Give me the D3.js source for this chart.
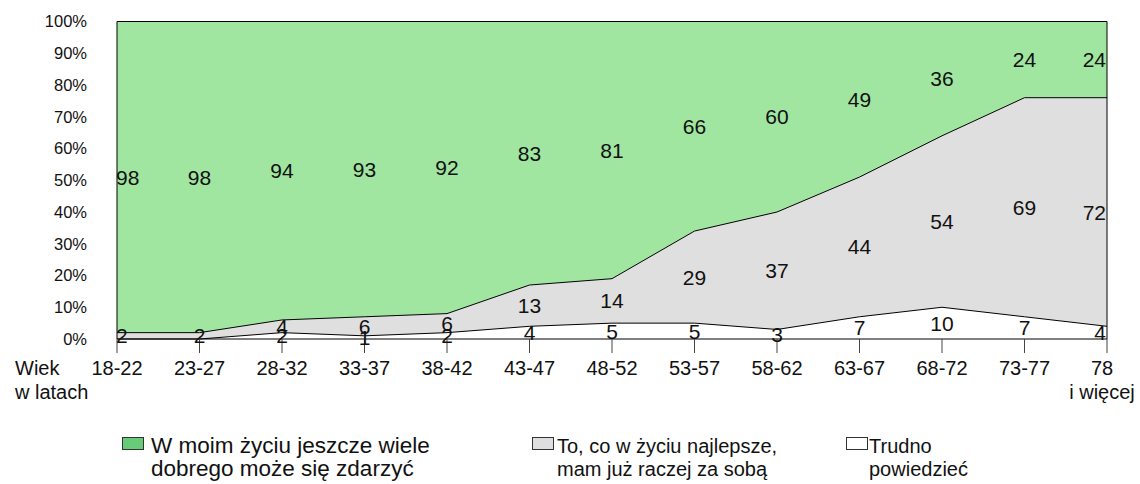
<!DOCTYPE html>
<html>
<head>
<meta charset="utf-8">
<script src="https://cdn.jsdelivr.net/npm/d3@7"></script>
<style>
  body { margin: 0; background: #fff; }
  svg { display: block; font-family: Arial, "Liberation Sans", sans-serif; }
</style>
</head>
<body>
<div id="chart"></div>
<script>
// age groups (x categories)
const ageGroups = ["18-22", "23-27", "28-32", "33-37", "38-42", "43-47", "48-52",
                   "53-57", "58-62", "63-67", "68-72", "73-77", "78|i więcej"];
// percentages
const wieleDobrego = [98, 98, 94, 93, 92, 83, 81, 66, 60, 49, 36, 24, 24];
const zaSoba = [2, 2, 4, 6, 6, 13, 14, 29, 37, 44, 54, 69, 72];
const trudno = [0, 0, 2, 1, 2, 4, 5, 5, 3, 7, 10, 7, 4];
const yTicks = [0, 10, 20, 30, 40, 50, 60, 70, 80, 90, 100];

const seriesKeys = ["trudno", "zaSoba", "wiele"];
const seriesFill = { trudno: "#ffffff", zaSoba: "#dfdfdf", wiele: "#a0e6a0" };
const legendItems = [
    { key: "wiele", lines: ["W moim życiu jeszcze wiele", "dobrego może się zdarzyć"], sw: "#66cc77", x: 122, tx: 151, fs: 22.5 },
    { key: "zaSoba", lines: ["To, co w życiu najlepsze,", "mam już raczej za sobą"], sw: "#dfdfdf", x: 532, tx: 557, fs: 20 },
    { key: "trudno", lines: ["Trudno", "powiedzieć"], sw: "#ffffff", x: 846, tx: 869, fs: 20 }
];

const W = 1140, H = 484;
const plotL = 117, plotR = 1107, plotT = 21.5, plotB = 339;

const table = ageGroups.map((g, i) => ({
    group: g, trudno: trudno[i], zaSoba: zaSoba[i], wiele: wieleDobrego[i]
}));

const svg = d3.select("#chart").append("svg")
    .attr("width", W).attr("height", H);

const x = d3.scalePoint().domain(ageGroups).range([plotL, plotR]);
const y = d3.scaleLinear().domain([0, 100]).range([plotB, plotT]);

const stacked = d3.stack().keys(seriesKeys)(table);

const area = d3.area()
    .x(d => x(d.data.group))
    .y0(d => y(d[0]))
    .y1(d => y(d[1]));

svg.append("g").selectAll("path")
    .data(stacked)
    .join("path")
    .attr("d", area)
    .attr("fill", d => seriesFill[d.key]);

// boundary lines between the bands
const line = d3.line()
    .x(d => x(d.data.group))
    .y(d => y(d[1]));

svg.append("g").selectAll("path")
    .data(stacked.slice(0, 2))
    .join("path")
    .attr("d", line)
    .attr("fill", "none")
    .attr("stroke", "#000")
    .attr("stroke-width", 1);

// frame
svg.append("path")
    .attr("d", `M${plotL},${plotB}V${plotT}H${plotR}V${plotB}`)
    .attr("fill", "none").attr("stroke", "#000");
svg.append("line")
    .attr("x1", plotL).attr("x2", plotR)
    .attr("y1", plotB).attr("y2", plotB)
    .attr("stroke", "#000");

// x ticks
svg.append("g").selectAll("line")
    .data(ageGroups)
    .join("line")
    .attr("x1", d => x(d)).attr("x2", d => x(d))
    .attr("y1", plotB).attr("y2", plotB + 14)
    .attr("stroke", "#444");

const xl = svg.append("g").attr("font-size", 20).attr("fill", "#111");
ageGroups.forEach((g, i) => {
    const parts = g.split("|");
    const cx = i === ageGroups.length - 1 ? x(g) - 5 : x(g);
    const t = xl.append("text").attr("text-anchor", "middle");
    parts.forEach((p, j) => {
        t.append("tspan").attr("x", cx).attr("y", 375 + j * 24).text(p);
    });
});
const wiek = xl.append("text");
wiek.append("tspan").attr("x", 15).attr("y", 375).text("Wiek");
wiek.append("tspan").attr("x", 15).attr("y", 399).text("w latach");

// y labels
svg.append("g").selectAll("text")
    .data(yTicks)
    .join("text")
    .attr("x", 87)
    .attr("y", d => y(d))
    .attr("dy", "0.36em")
    .attr("text-anchor", "end")
    .attr("font-size", 16.5)
    .attr("fill", "#111")
    .text(d => d + "%");

// value labels in the middle of each band
const last = ageGroups.length - 1;
const vl = svg.append("g").attr("font-size", 21).attr("fill", "#111");
stacked.forEach(s => {
    s.forEach((d, i) => {
        const v = d[1] - d[0];
        if (v <= 0) return;
        let px = x(d.data.group), anchor = "middle";
        if (i === 0) { px = px - 1; anchor = "start"; }
        if (i === last) { px = px - 1; anchor = "end"; }
        vl.append("text")
            .attr("x", px)
            .attr("y", y((d[0] + d[1]) / 2))
            .attr("dy", "0.36em")
            .attr("text-anchor", anchor)
            .text(v);
    });
});

// legend
const lg = svg.append("g");
legendItems.forEach(it => {
    lg.append("rect")
        .attr("x", it.x + 0.5).attr("y", 437.5)
        .attr("width", 21).attr("height", 12)
        .attr("fill", it.sw).attr("stroke", "#333");
    const t = lg.append("text").attr("font-size", it.fs).attr("fill", "#111");
    it.lines.forEach((l, j) => {
        t.append("tspan").attr("x", it.tx).attr("y", 453 + j * 23).text(l);
    });
});
</script>
</body>
</html>
